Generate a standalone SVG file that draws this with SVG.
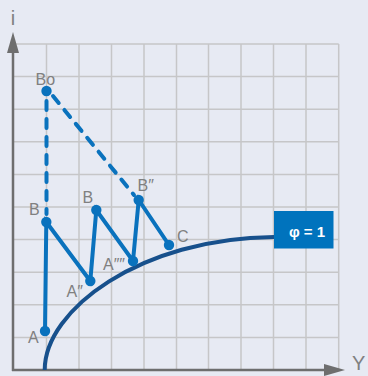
<svg xmlns="http://www.w3.org/2000/svg" width="368" height="376" viewBox="0 0 368 376">
<style>
.grid{stroke:#c6c6c8;stroke-width:1.5;fill:none}
.axis{stroke:#6e6e6e;stroke-width:2.5;fill:none}
.lbl{font-family:"Liberation Sans",Arial,sans-serif;font-size:16px;fill:#808080}
.ax{font-family:"Liberation Sans",Arial,sans-serif;font-size:20px;fill:#808080}
.seg{stroke:#0a72bd;stroke-width:4;stroke-linecap:round;fill:none}
.dash{stroke:#0a72bd;stroke-width:4;stroke-linecap:round;stroke-dasharray:9 9;fill:none}
.dot{fill:#0a72bd}
</style>
<rect width="368" height="376" fill="#e7eaf3"/>
<g id="grid" class="grid">
<path d="M46.5 44V370M79 44V370M111.5 44V370M144 44V370M176.5 44V370M208.5 44V370M241 44V370M273.5 44V370M306 44V370M338.7 44V370"/>
<path d="M13 44H338.7M13 76.6H338.7M13 109.2H338.7M13 141.8H338.7M13 174.4H338.7M13 207H338.7M13 239.6H338.7M13 272.2H338.7M13 304.8H338.7M13 337.4H338.7"/>
</g>
<g id="axes">
<path class="axis" d="M13 371V50M12 370H326"/>
<polygon points="13,32 7,53 19,53" fill="#6e6e6e"/>
<polygon points="345,370 324,364 324,376" fill="#6e6e6e"/>
<text class="ax" x="13" y="25" text-anchor="middle">i</text>
<text class="ax" x="352" y="370">Y</text>
</g>
<g id="curve">
<path d="M44.7 370C44.7 310 140 238 274 237" stroke="#17508c" stroke-width="4" fill="none"/>
</g>
<g id="connectors">
<path class="dash" d="M46.5 101V214"/>
<path class="dash" d="M53 96L134 195"/>
<path class="seg" d="M45 331L46.3 222L90.3 281L96.3 210L133 261L138.7 200L169 245"/>
</g>
<g id="node-Bo"><circle class="dot" cx="46.5" cy="91" r="5.2"/><text class="lbl" x="35.5" y="85">Bo</text></g>
<g id="node-B1"><circle class="dot" cx="46.3" cy="222" r="5.2"/><text class="lbl" x="29" y="215">B</text></g>
<g id="node-A"><circle class="dot" cx="45" cy="331" r="5.2"/><text class="lbl" x="28" y="343">A</text></g>
<g id="node-A2"><circle class="dot" cx="90.3" cy="281" r="5.2"/><text class="lbl" x="66.5" y="297">A″</text></g>
<g id="node-B2"><circle class="dot" cx="96.3" cy="210" r="5.2"/><text class="lbl" x="82.5" y="203">B</text></g>
<g id="node-A4"><circle class="dot" cx="133" cy="261" r="5.2"/><text class="lbl" x="103" y="270">A″″</text></g>
<g id="node-B3"><circle class="dot" cx="138.7" cy="200" r="5.2"/><text class="lbl" x="137.5" y="191">B″</text></g>
<g id="node-C"><circle class="dot" cx="169" cy="245" r="5.2"/><text class="lbl" x="177" y="242">C</text></g>
<g id="node-phi">
<rect x="274" y="211" width="59.5" height="37.5" fill="#0073bd"/>
<text x="307" y="236.5" text-anchor="middle" font-family="'Liberation Sans',Arial,sans-serif" font-size="15" font-weight="bold" fill="#ffffff">φ = 1</text>
</g>
</svg>
